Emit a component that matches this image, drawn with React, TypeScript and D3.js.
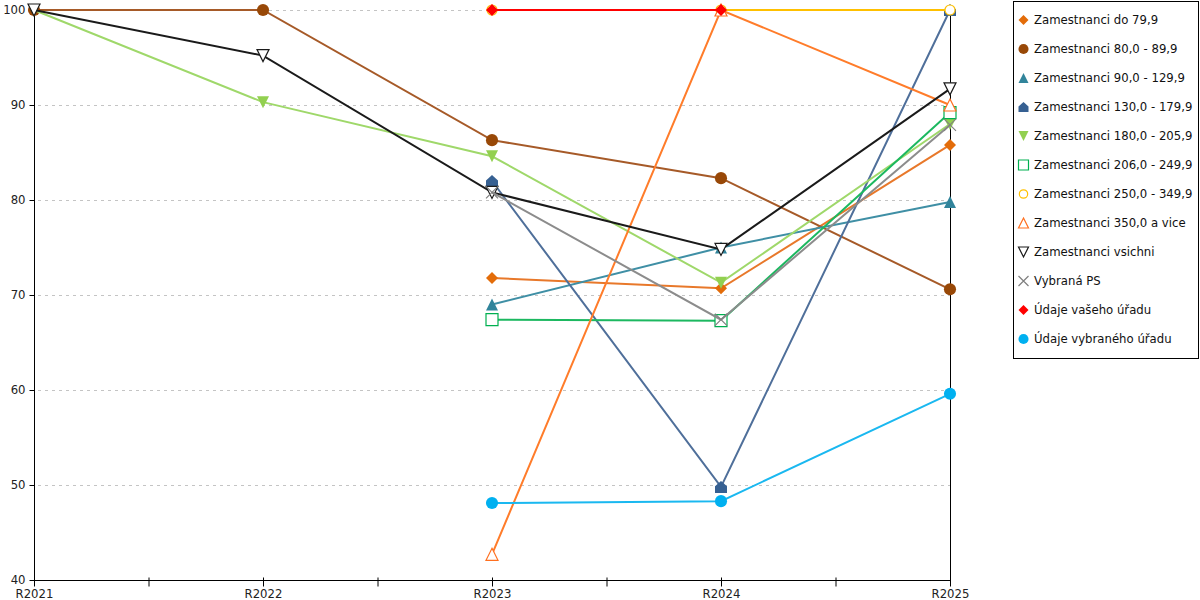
import { useEffect, useRef } from "react"
import * as d3 from "d3"

const years = ["R2021", "R2022", "R2023", "R2024", "R2025"]
const yTicks = [40, 50, 60, 70, 80, 90, 100]

const do79 = [null, null, 71.8, 70.7, 85.8]
const z80 = [100, 100, 86.3, 82.3, 70.6]
const z90 = [null, null, 69.0, 75.0, 79.8]
const z130 = [null, null, 82.0, 49.8, 100]
const z180 = [100, 90.3, 84.6, 71.3, 88.0]
const z206 = [null, null, 67.4, 67.3, 89.2]
const z250 = [null, null, 100, 100, 100]
const z350 = [null, null, 42.7, 100, 90.0]
const vsichni = [100, 95.2, 80.8, 74.8, 91.7]
const vybranaPS = [null, null, 80.8, 67.4, 87.9]
const vaseho = [null, null, 100, 100, null]
const vybraneho = [null, null, 48.1, 48.3, 59.6]

type Marker = "diamond" | "circle" | "triangle" | "house" | "down" | "square" | "ring" | "openTri" | "openDown" | "cross"

interface Series {
  name: string
  values: (number | null)[]
  line: string
  color: string
  marker: Marker
}

const series: Series[] = [
  { name: "Zamestnanci do 79,9", values: do79, line: "#e8782a", color: "#e36c09", marker: "diamond" },
  { name: "Zamestnanci 80,0 - 89,9", values: z80, line: "#a65a28", color: "#984807", marker: "circle" },
  { name: "Zamestnanci 90,0 - 129,9", values: z90, line: "#3f8fa5", color: "#31849b", marker: "triangle" },
  { name: "Zamestnanci 130,0 - 179,9", values: z130, line: "#4f6f9a", color: "#366092", marker: "house" },
  { name: "Zamestnanci 180,0 - 205,9", values: z180, line: "#9fd86a", color: "#92d050", marker: "down" },
  { name: "Zamestnanci 206,0 - 249,9", values: z206, line: "#1cb860", color: "#00b050", marker: "square" },
  { name: "Zamestnanci 250,0 - 349,9", values: z250, line: "#ffc000", color: "#ffc000", marker: "ring" },
  { name: "Zamestnanci 350,0 a vice", values: z350, line: "#ff7c2a", color: "#ff7020", marker: "openTri" },
  { name: "Zamestnanci vsichni", values: vsichni, line: "#1a1a1a", color: "#1a1a1a", marker: "openDown" },
  { name: "Vybraná PS", values: vybranaPS, line: "#8c8c8c", color: "#808080", marker: "cross" },
  { name: "Údaje vašeho úřadu", values: vaseho, line: "#ff0000", color: "#ff0000", marker: "diamond" },
  { name: "Údaje vybraného úřadu", values: vybraneho, line: "#1ab8f0", color: "#00b0f0", marker: "circle" },
]

function markerPath(m: Marker, s: number): string {
  const h = s / 2
  switch (m) {
    case "diamond":
      return `M0,${-h}L${h},0L0,${h}L${-h},0Z`
    case "cross":
      return `M${-h},${-h}L${h},${h}M${h},${-h}L${-h},${h}`
    case "triangle":
    case "openTri":
      return `M0,${-h}L${h},${h}L${-h},${h}Z`
    case "down":
    case "openDown":
      return `M${-h},${-h}L${h},${-h}L0,${h}Z`
    case "house":
      return `M0,${-h}L${h},${-h * 0.1}L${h},${h}L${-h},${h}L${-h},${-h * 0.1}Z`
    case "square":
      return `M${-h},${-h}H${h}V${h}H${-h}Z`
    case "ring":
      return d3.symbol(d3.symbolCircle, s * s * 0.55)() || ""
    default:
      return d3.symbol(d3.symbolCircle, s * s * 0.8)() || ""
  }
}

function drawMarker(g: d3.Selection<SVGGElement, unknown, null, undefined>, m: Marker, color: string, size: number) {
  const open = m === "square" || m === "ring" || m === "openTri" || m === "openDown" || m === "cross"
  g.append("path")
    .attr("d", markerPath(m, size))
    .attr("fill", open ? (m === "cross" ? "none" : "white") : color)
    .attr("stroke", open ? color : "none")
    .attr("stroke-width", 1.2)
}

export default function App() {
  const svgRef = useRef<SVGSVGElement>(null)

  useEffect(() => {
    if (!svgRef.current) return
    d3.select(svgRef.current).selectAll("*").remove()

    const width = 1200
    const height = 600
    const margin = { top: 10, left: 34, right: 250, bottom: 20 }
    const font = "DejaVu Sans, Verdana, sans-serif"
    const fontSize = "11.7px"

    const svg = d3.select(svgRef.current).attr("width", width).attr("height", height)

    const x = d3.scaleLinear().domain([0, years.length - 1]).range([margin.left, width - margin.right])
    const y = d3.scaleLinear().domain([40, 100]).range([height - margin.bottom, margin.top])

    // grid
    svg
      .append("g")
      .selectAll("line")
      .data(yTicks.slice(1))
      .enter()
      .append("line")
      .attr("x1", margin.left + 4)
      .attr("x2", x(years.length - 1))
      .attr("y1", (d) => Math.round(y(d)) + 0.5)
      .attr("y2", (d) => Math.round(y(d)) + 0.5)
      .attr("stroke", "#c4c4c4")
      .attr("stroke-dasharray", "3,4")

    // right border of plot
    svg
      .append("line")
      .attr("x1", x(years.length - 1) + 0.5)
      .attr("x2", x(years.length - 1) + 0.5)
      .attr("y1", y(100))
      .attr("y2", y(40))
      .attr("stroke", "#000")

    // y axis
    const yAxis = svg
      .append("g")
      .attr("transform", `translate(${margin.left + 0.5},0)`)
      .call(d3.axisLeft(y).tickValues(yTicks).tickSize(5).tickPadding(4))
    yAxis.select(".domain").attr("stroke", "#000").attr("d", `M0,${y(100)}V${y(40)}`)
    yAxis.selectAll("text").style("font-family", font).style("font-size", fontSize).attr("fill", "#222")

    // x axis with half ticks
    const xAxis = svg
      .append("g")
      .attr("transform", `translate(0,${y(40) + 0.5})`)
      .call(
        d3
          .axisBottom(x)
          .tickValues(d3.range(0, years.length - 0.5, 0.5))
          .tickSize(6)
          .tickFormat((d) => (Number(d) % 1 === 0 ? years[Number(d)] : ""))
          .tickPadding(3)
      )
    xAxis.select(".domain").attr("stroke", "#000").attr("d", `M${margin.left},0H${x(years.length - 1)}`)
    xAxis.selectAll(".tick line").attr("y1", -3).attr("stroke", "#000")
    xAxis.selectAll("text").style("font-family", font).style("font-size", fontSize).attr("fill", "#222")

    // lines and markers
    const line = d3
      .line<number | null>()
      .defined((d) => d !== null)
      .x((_, i) => x(i))
      .y((d) => y(d as number))

    series.forEach((s) => {
      svg
        .append("path")
        .datum(s.values)
        .attr("fill", "none")
        .attr("stroke", s.line)
        .attr("stroke-width", 2)
        .attr("d", line)
      s.values.forEach((v, i) => {
        if (v === null) return
        const g = svg.append("g").attr("transform", `translate(${x(i)},${y(v)})`)
        drawMarker(g, s.marker, s.color, 12)
      })
    })

    // legend
    const lg = svg.append("g").attr("transform", "translate(1013.5,1.5)")
    lg.append("rect").attr("width", 185).attr("height", 357).attr("fill", "white").attr("stroke", "#000")
    series.forEach((s, i) => {
      const row = lg.append("g").attr("transform", `translate(10,${18.5 + i * 29})`)
      drawMarker(row, s.marker, s.color, 10)
      row
        .append("text")
        .attr("x", 10.5)
        .attr("dy", "0.35em")
        .style("font-family", font)
        .style("font-size", fontSize)
        .attr("fill", "#111")
        .text(s.name)
    })
  }, [])

  return <svg ref={svgRef} style={{ position: "absolute", left: 0, top: 0 }}></svg>
}
